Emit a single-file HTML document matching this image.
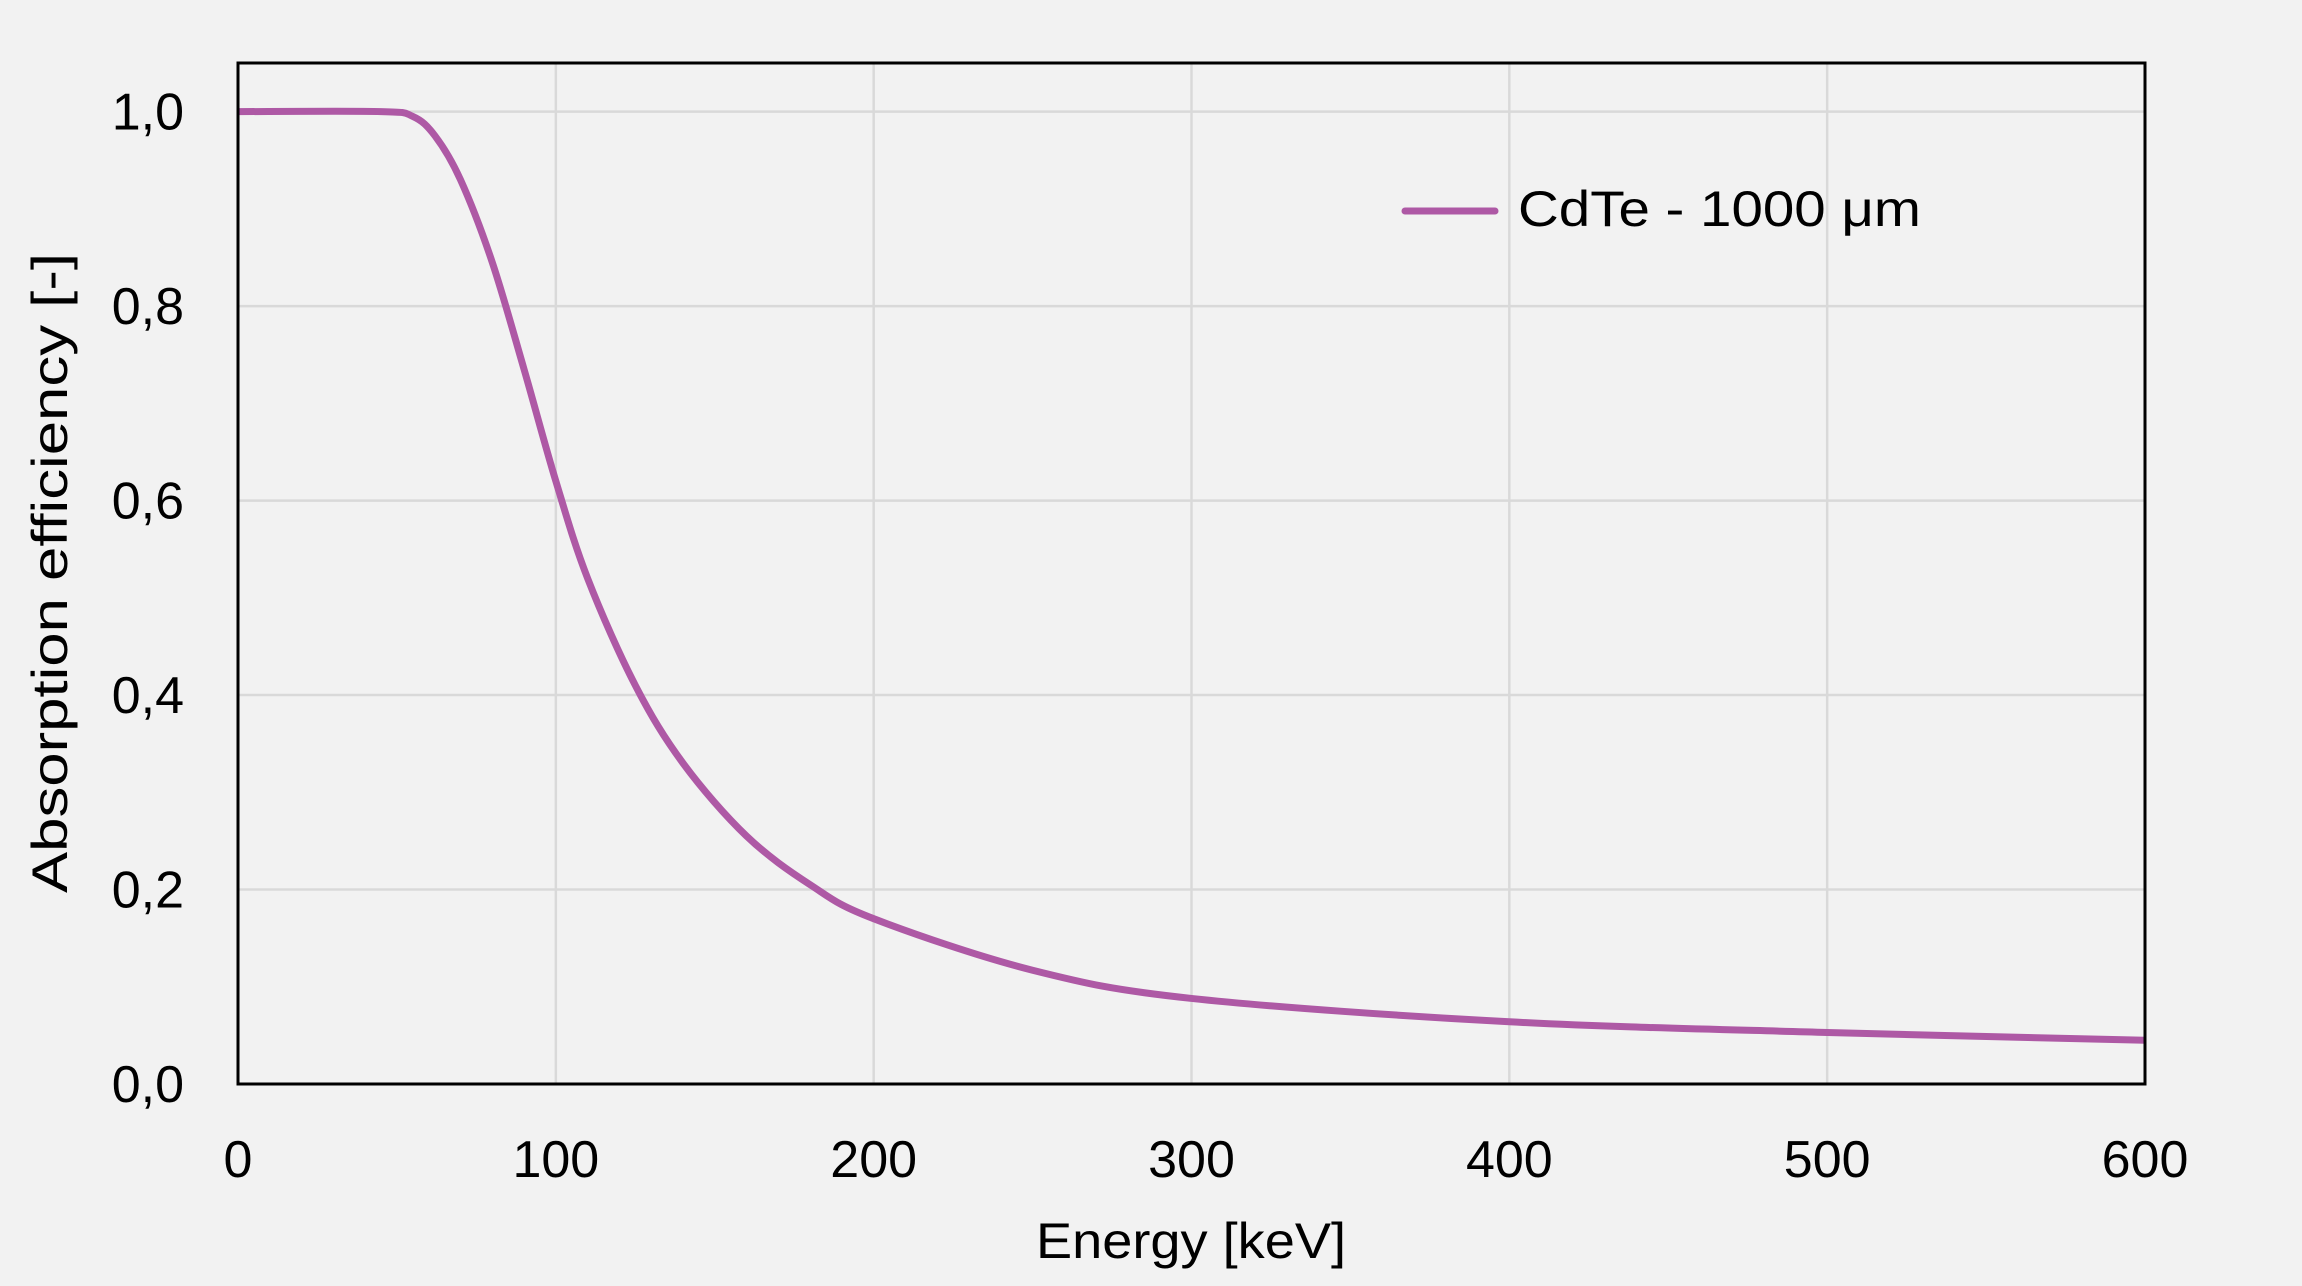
<!DOCTYPE html>
<html><head><meta charset="utf-8"><style>
html,body{margin:0;padding:0;background:#f2f2f2;}
svg{display:block;font-family:"Liberation Sans",sans-serif;}
</style></head><body>
<svg id="chart" width="2302" height="1286" viewBox="0 0 2302 1286" xmlns="http://www.w3.org/2000/svg">
<rect width="2302" height="1286" fill="#f2f2f2"/>
<g id="grid"></g>
<g id="ticks"></g>
<path id="series" fill="none" stroke="#ae59a5" stroke-width="7" stroke-linecap="butt" stroke-linejoin="round"/>
<rect x="238" y="63" width="1907" height="1021" fill="none" stroke="#000" stroke-width="3"/>
<line x1="1405" y1="211" x2="1495" y2="211" stroke="#ae59a5" stroke-width="7" stroke-linecap="round"/>
<text x="1518" y="226" font-size="50" fill="#000" textLength="403" lengthAdjust="spacingAndGlyphs">CdTe - 1000 μm</text>
<text x="1191" y="1258" font-size="50" text-anchor="middle" fill="#000" textLength="310" lengthAdjust="spacingAndGlyphs">Energy [keV]</text>
<text transform="translate(67,573) rotate(-90)" font-size="50" text-anchor="middle" fill="#000" textLength="640" lengthAdjust="spacingAndGlyphs">Absorption efficiency [-]</text>
</svg>
<script>
const xTicks = [0,100,200,300,400,500,600];
const yTicks = [0,0.2,0.4,0.6,0.8,1.0];
const yTickLabels = ["0,0","0,2","0,4","0,6","0,8","1,0"];
const energy = [0,45,55,62,70,80,90,100,110,125,140,160,180,200,250,300,400,500,600];
const efficiency = [1.0,1.0,0.995,0.975,0.93,0.845,0.735,0.62,0.52,0.41,0.33,0.255,0.205,0.17,0.117,0.088,0.064,0.053,0.045];

const L=238,R=2145,T=63,B=1084;
const xMax=600,yMax=1.05;
function sx(v){return L+(v/xMax)*(R-L);}
function sy(v){return B-(v/yMax)*(B-T);}
const NS="http://www.w3.org/2000/svg";
const grid=document.getElementById('grid'), ticks=document.getElementById('ticks');
xTicks.forEach(function(t){
  if(t>0&&t<xMax){
    const l=document.createElementNS(NS,'line');
    l.setAttribute('x1',sx(t));l.setAttribute('x2',sx(t));l.setAttribute('y1',T);l.setAttribute('y2',B);
    l.setAttribute('stroke','#d9d9d9');l.setAttribute('stroke-width','2.5');
    
    
    grid.appendChild(l);
  }
  const tx=document.createElementNS(NS,'text');
  tx.setAttribute('x',sx(t));tx.setAttribute('y',1177);tx.setAttribute('font-size','52');
  tx.setAttribute('text-anchor','middle');tx.textContent=String(t);
  
  
  ticks.appendChild(tx);
});
yTicks.forEach(function(t,i){
  if(t>0){
    const l=document.createElementNS(NS,'line');
    l.setAttribute('x1',L);l.setAttribute('x2',R);l.setAttribute('y1',sy(t));l.setAttribute('y2',sy(t));
    l.setAttribute('stroke','#d9d9d9');l.setAttribute('stroke-width','2.5');
    
    
    grid.appendChild(l);
  }
  const tx=document.createElementNS(NS,'text');
  tx.setAttribute('x',184);tx.setAttribute('y',sy(t)+18);tx.setAttribute('font-size','52');
  tx.setAttribute('text-anchor','end');tx.textContent=yTickLabels[i];
  
  
  ticks.appendChild(tx);
});
const pts=energy.map(function(e,i){return [sx(e),sy(efficiency[i])];});
let d='M'+pts[0][0]+','+pts[0][1];
for(let i=0;i<pts.length-1;i++){
  const p0=pts[Math.max(0,i-1)],p1=pts[i],p2=pts[i+1],p3=pts[Math.min(pts.length-1,i+2)];
  const c1=[p1[0]+(p2[0]-p0[0])/6,p1[1]+(p2[1]-p0[1])/6];
  const c2=[p2[0]-(p3[0]-p1[0])/6,p2[1]-(p3[1]-p1[1])/6];
  d+=' C'+c1[0]+','+c1[1]+' '+c2[0]+','+c2[1]+' '+p2[0]+','+p2[1];
}
document.getElementById('series').setAttribute('d',d);
</script>
</body></html>
